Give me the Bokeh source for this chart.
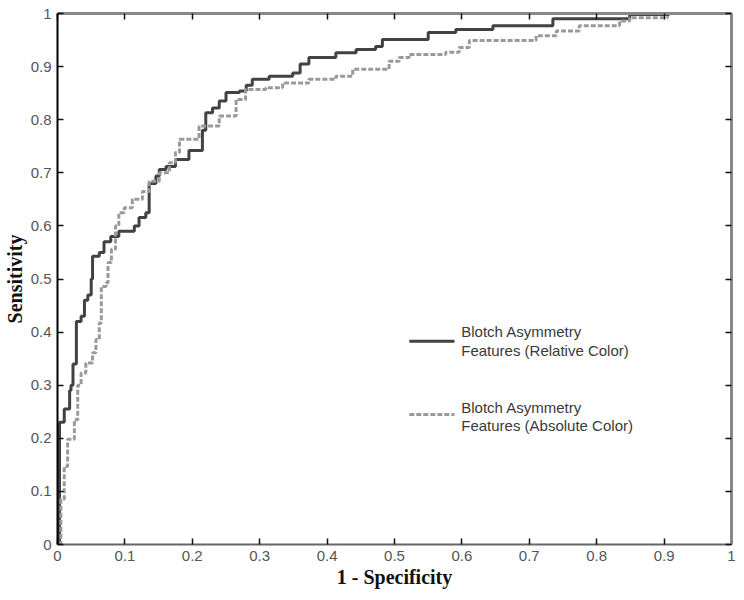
from bokeh.plotting import figure
from bokeh.models import Range1d, LinearAxis, FixedTicker, CustomLabelingPolicy
from bokeh.core.properties import value
from bokeh.embed import file_html
from bokeh.resources import INLINE

# ---- data ----
ticks = [0, 0.1, 0.2, 0.3, 0.4, 0.5, 0.6, 0.7, 0.8, 0.9, 1]
tick_labels = ["0", "0.1", "0.2", "0.3", "0.4", "0.5", "0.6", "0.7", "0.8", "0.9", "1"]

rel_fpr = [0.003, 0.003, 0.01, 0.018, 0.02, 0.023, 0.028, 0.035, 0.04, 0.045, 0.05,
           0.052, 0.062, 0.069, 0.079, 0.091, 0.114, 0.121, 0.131, 0.136, 0.146,
           0.151, 0.161, 0.175, 0.195, 0.215, 0.22, 0.23, 0.24, 0.25, 0.27, 0.28,
           0.289, 0.314, 0.349, 0.36, 0.373, 0.413, 0.443, 0.472, 0.482, 0.55,
           0.591, 0.646, 0.735, 0.849, 0.908]
rel_tpr = [0.0, 0.23, 0.255, 0.29, 0.30, 0.34, 0.42, 0.43, 0.46, 0.47, 0.50,
           0.543, 0.55, 0.57, 0.58, 0.59, 0.60, 0.616, 0.625, 0.68, 0.694,
           0.706, 0.712, 0.725, 0.742, 0.78, 0.813, 0.822, 0.835, 0.851, 0.854, 0.865,
           0.876, 0.882, 0.888, 0.905, 0.917, 0.926, 0.932, 0.938, 0.951, 0.964,
           0.97, 0.977, 0.99, 0.998, 0.998]

abs_fpr = [0.003, 0.005, 0.01, 0.015, 0.025, 0.03, 0.035, 0.042, 0.052, 0.057, 0.062,
           0.065, 0.072, 0.075, 0.08, 0.086, 0.091, 0.099, 0.111, 0.126, 0.136,
           0.151, 0.166, 0.175, 0.181, 0.21, 0.24, 0.265, 0.279, 0.309, 0.334,
           0.373, 0.413, 0.438, 0.492, 0.507, 0.522, 0.576, 0.596, 0.611, 0.71,
           0.74, 0.774, 0.834, 0.849, 0.905]
abs_tpr = [0.0, 0.085, 0.147, 0.198, 0.235, 0.30, 0.323, 0.342, 0.361, 0.386, 0.417,
           0.486, 0.493, 0.531, 0.556, 0.60, 0.625, 0.634, 0.65, 0.665, 0.684,
           0.70, 0.719, 0.738, 0.763, 0.788, 0.807, 0.838, 0.857, 0.86, 0.869,
           0.876, 0.882, 0.895, 0.91, 0.917, 0.923, 0.927, 0.936, 0.949, 0.958,
           0.967, 0.977, 0.986, 0.992, 0.995]

series_names = ["Blotch Asymmetry\nFeatures (Relative Color)",
                "Blotch Asymmetry\nFeatures (Absolute Color)"]

# ---- styles ----
SOLID = "#424242"
DASH = "#9a9a9a"
TICK_FONT = "Liberation Sans"
LABEL_FONT = "Liberation Serif"

p = figure(frame_width=674, frame_height=531,
           x_range=Range1d(0, 1), y_range=Range1d(0, 1),
           output_backend="svg", toolbar_location=None,
           min_border_left=0, min_border_right=4, min_border_top=13, min_border_bottom=0)
p.grid.visible = False
p.outline_line_color = None
p.background_fill_color = "white"
p.border_fill_color = "white"

p.step(rel_fpr, rel_tpr, mode="after", line_color=SOLID, line_width=3)
p.step(abs_fpr, abs_tpr, mode="after", line_color=DASH, line_width=3, line_dash="5 2")

# legend drawn manually
p.line([0.522, 0.589], [0.383, 0.383], line_color=SOLID, line_width=3)
p.line([0.522, 0.589], [0.245, 0.245], line_color=DASH, line_width=3, line_dash="5 2")
p.text(x=[0.599, 0.599], y=[0.383, 0.241], text=series_names,
       text_font=value(TICK_FONT), text_font_size="15px", text_color="#3a3a3a",
       text_baseline="middle", text_align="left", text_line_height=1.1)


def style(ax, line_color, line_width, labels=True):
    ax.ticker = FixedTicker(ticks=ticks)
    ax.minor_tick_line_color = None
    ax.major_tick_in = 6
    ax.major_tick_out = 0
    ax.major_tick_line_color = "#111111"
    ax.major_tick_line_width = 1.5
    ax.axis_line_color = line_color
    ax.axis_line_width = line_width
    if labels:
        ax.major_label_overrides = {t: l for t, l in zip(ticks, tick_labels)}
        ax.major_label_text_font = TICK_FONT
        ax.major_label_text_font_size = "15px"
        ax.major_label_text_color = "#555555"
        ax.major_label_standoff = 6
        ax.axis_label_text_font = LABEL_FONT
        ax.axis_label_text_font_style = "bold"
        ax.axis_label_text_font_size = "20px"
        ax.axis_label_text_color = "#111111"
    else:
        ax.major_label_policy = CustomLabelingPolicy(code="return new Set()")
        ax.major_label_standoff = 0


xa = p.xaxis[0]
style(xa, "#666666", 2)
xa.axis_label = "1 - Specificity"
xa.axis_label_standoff = 2

ya = p.yaxis[0]
style(ya, "#000000", 2)
ya.axis_label = "Sensitivity"
ya.axis_label_standoff = 2

top = LinearAxis()
style(top, "#888888", 3, labels=False)
p.add_layout(top, "above")
right = LinearAxis()
style(right, "#888888", 3, labels=False)
p.add_layout(right, "right")

open("out.html", "w").write(file_html(p, INLINE))
